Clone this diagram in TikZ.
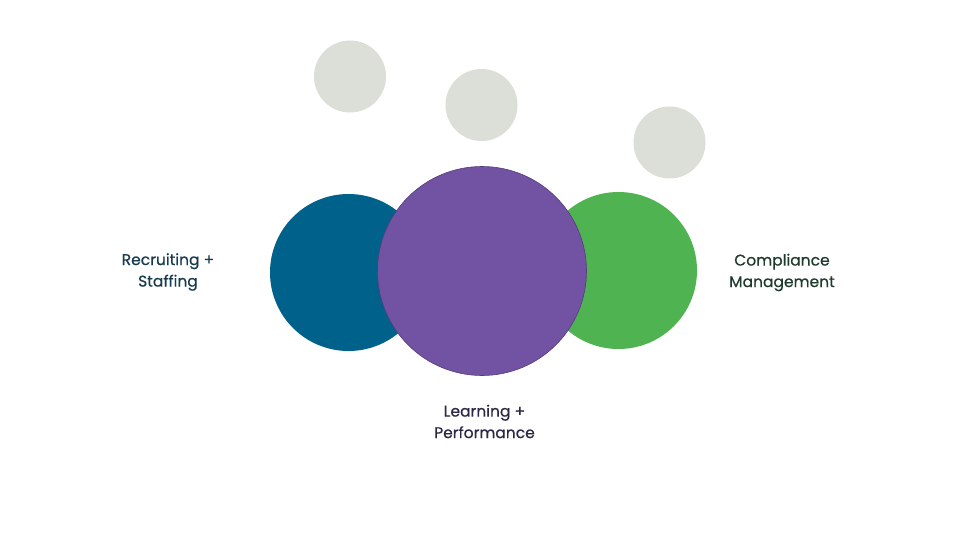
\documentclass[tikz,border=0pt]{standalone}
\usepackage{fontspec}
\setmainfont{Poppins}
\newfontfamily\labelfont{Poppins}[FakeBold=0.5]
\definecolor{recblue}{HTML}{00628B}
\definecolor{learnpurple}{HTML}{7152A3}
\definecolor{compgreen}{HTML}{50B352}
\definecolor{bubblegray}{HTML}{DCDED8}
\definecolor{recink}{HTML}{163A4F}
\definecolor{compink}{HTML}{1F3B2B}
\definecolor{learnink}{HTML}{2B2745}

\begin{document}
\begin{tikzpicture}
                [x=1pt, y=-1pt,
                disc/.style={circle, inner sep=0pt, draw=none},
                bubble/.style={disc, fill=bubblegray, minimum size=72pt},
                label/.style={align=center, font=\labelfont\fontsize{15.5}{21.5}\selectfont},
                ]
                \fill[white] (0,0) rectangle (960,540);
                \useasboundingbox (0,0) rectangle (960,540);
                \foreach \x/\y/\n in {350/76.5/bubA, 481.5/105/bubB, 669.5/142.5/bubC}
                    \node[bubble] (\n) at (\x,\y) {};
                \node[disc, fill=recblue, minimum size=157pt] (rec) at (348.5,272.5) {};
                \node[disc, fill=compgreen, minimum size=157pt] (comp) at (618.5,270.5) {};
                \node[disc, fill=learnpurple, draw=learnpurple!75!black, line width=0.6pt, minimum size=209pt] (learn) at (482,271) {};
                \node[label, text=recink] (rectext) at (168,272) {Recruiting +\\Staffing};
                \node[label, text=compink] (comptext) at (782,272.5) {Compliance\\Management};
                \node[label, text=learnink] (learntext) at (484.5,421.5) {Learning +\\Performance};
            \end{tikzpicture}
\end{document}
